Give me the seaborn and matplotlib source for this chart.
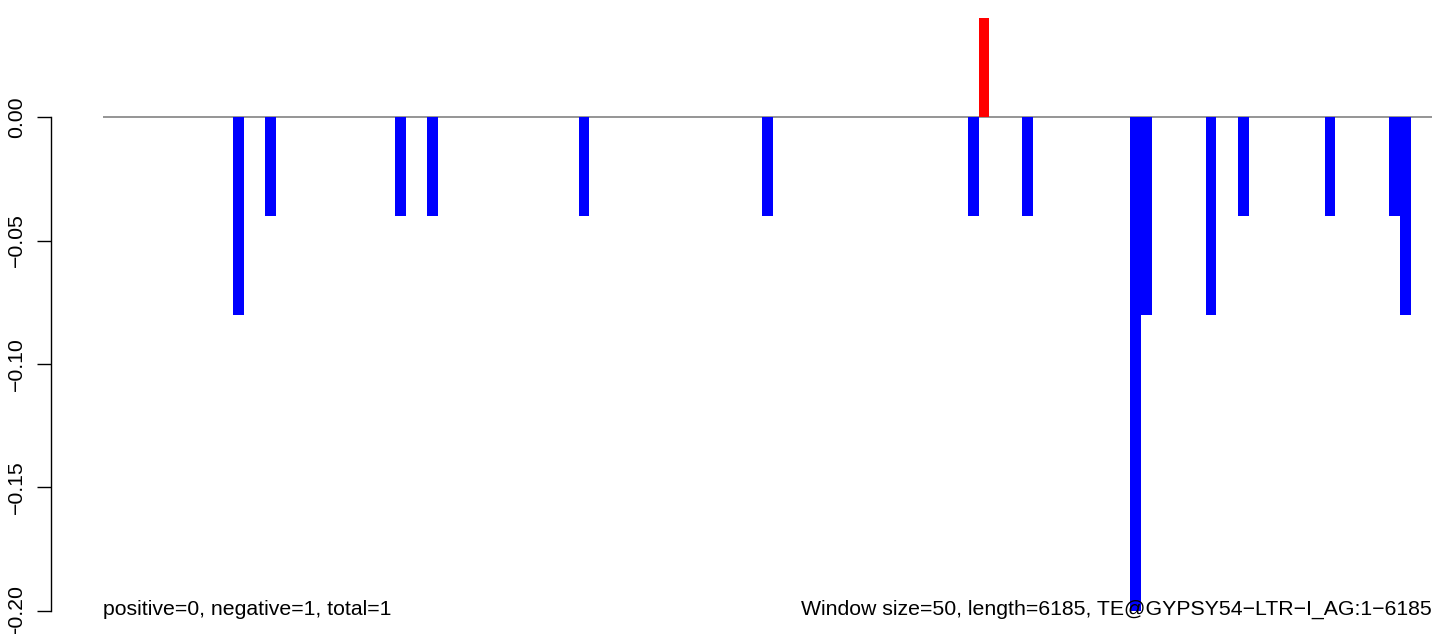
import numpy as np
import pandas as pd
import matplotlib
matplotlib.use("Agg")
import matplotlib.pyplot as plt
import seaborn as sns

# ---- data ----
window_size = 50
seq_length = 6185
window_index = [12, 15, 27, 30, 44, 61, 80, 81, 85, 95, 96, 102, 105, 113, 119, 120]
score = [-0.08, -0.04, -0.04, -0.04, -0.04, -0.04, -0.04, 0.04, -0.04,
         -0.20, -0.08, -0.08, -0.04, -0.04, -0.04, -0.08]
y_ticks = [0.00, -0.05, -0.10, -0.15, -0.20]
y_tick_labels = ["0.00", "\u22120.05", "\u22120.10", "\u22120.15", "\u22120.20"]
left_note = "positive=0, negative=1, total=1"
right_note = "Window size=50, length=6185, TE@GYPSY54\u2212LTR\u2212I_AG:1\u22126185"

sns.set_theme(style="white")
plt.rcParams['font.family'] = ['Liberation Sans', 'DejaVu Sans']

df = pd.DataFrame({
    "pos": [k * window_size + window_size / 2 for k in window_index],
    "score": score,
})
df["sign"] = np.where(df["score"] > 0, "positive", "negative")

W, H = 1449, 634
fig = plt.figure(figsize=(W / 100, H / 100), dpi=100)
ax = fig.add_axes([103 / W, 1 - 634.7 / H, 1329 / W, 640.2 / H])
ax.set_facecolor("white")

ax.axhline(0, color="#8c8c8c", lw=1.3, zorder=1)
sns.barplot(data=df, x="pos", y="score", hue="sign",
            palette={"positive": "#ff0000", "negative": "#0000ff"},
            native_scale=True, dodge=False, width=1.0, saturation=1,
            errorbar=None, linewidth=0, legend=False, ax=ax, zorder=2)

ax.set_xlim(0, 6147)
ax.set_ylim(-0.2096, 0.0496)
ax.set_xlabel("")
ax.set_ylabel("")
ax.set_xticks([])
ax.set_yticks(y_ticks)
ax.set_yticklabels(y_tick_labels)

for s in ["top", "right", "bottom"]:
    ax.spines[s].set_visible(False)
ax.spines["left"].set_position(("outward", 52 * 0.72))
ax.spines["left"].set_bounds(-0.20, 0.0)
ax.spines["left"].set_color("black")
ax.spines["left"].set_linewidth(1.0)
ax.tick_params(axis="y", direction="out", length=10, width=1.0, color="black",
               labelsize=15.3, labelcolor="black", pad=8.2, left=True)
for lab in ax.get_yticklabels():
    lab.set_rotation(90)
    lab.set_va("center")
    lab.set_ha("right")

fig.text(103 / W, 1 - 615 / H, left_note, ha="left", va="baseline",
         fontsize=15.3, color="black")
fig.text(1432 / W, 1 - 615 / H, right_note, ha="right", va="baseline",
         fontsize=15.3, color="black")

fig.savefig("out.png", dpi=100, facecolor="white")
